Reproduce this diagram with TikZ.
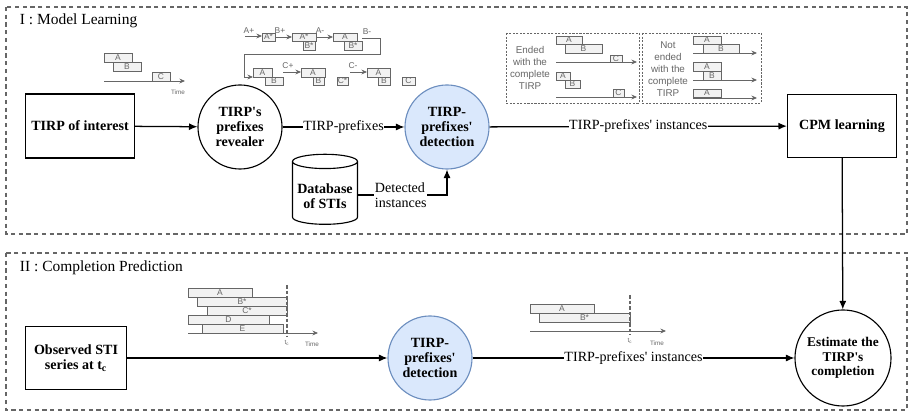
\documentclass[tikz,border=0pt]{standalone}
\usepackage{fontspec}
\setmainfont{Liberation Serif}[Ligatures=TeXOff]
\setsansfont{Liberation Sans}
\usetikzlibrary{arrows.meta, shapes.geometric}

\definecolor{sketchgray}{HTML}{666666}
\definecolor{evfill}{HTML}{F2F2F2}
\definecolor{detfill}{HTML}{DAE8FC}
\definecolor{detline}{HTML}{6C8EBF}

% small interval box with its letter
\newcommand{\ev}[5]{\draw[evbox] (#1,#2) rectangle node[evtext]{#5} (#3,#4);}

\begin{document}
\begin{tikzpicture}[x=0.025cm, y=-0.025cm,
	frame/.style={draw=sketchgray, line width=0.8pt, dash pattern=on 3pt off 2.5pt},
	panel/.style={draw=sketchgray, line width=0.5pt, dash pattern=on 1.5pt off 1pt},
	procbox/.style={draw, line width=0.8pt, font=\fontsize{10}{11}\selectfont\bfseries, align=center},
	proc/.style={draw, circle, line width=0.8pt, minimum size=2.1cm, inner sep=0pt, font=\fontsize{10}{10.5}\selectfont\bfseries, align=center},
	detect/.style={proc, fill=detfill, draw=detline},
	flow/.style={line width=0.9pt, -{Latex[length=6pt, width=5pt]}},
	flowlbl/.style={fill=white, inner sep=0.5pt, font=\fontsize{10}{11}\selectfont, align=left},
	evbox/.style={draw=sketchgray, fill=evfill, line width=0.5pt},
	evtext/.style={text=sketchgray, font=\sffamily\fontsize{6}{6}\selectfont, inner sep=0pt},
	evlbl/.style={text=sketchgray, font=\sffamily\fontsize{6}{6}\selectfont, inner sep=0pt},
	tinylbl/.style={text=sketchgray, font=\sffamily\fontsize{4.5}{5}\selectfont, inner sep=0pt},
	paneltxt/.style={text=sketchgray, font=\sffamily\fontsize{7}{8.5}\selectfont, align=center, inner sep=0pt},
	axis/.style={draw=sketchgray, line width=0.6pt, -{Stealth[length=4pt, width=3.5pt]}},
	]
	\useasboundingbox (0,0) rectangle (908,411);

	% the two stages
	\draw[frame] (6,7) rectangle (907,234);
	\draw[frame] (6,253) rectangle (907,410);
	\node[anchor=west, font=\fontsize{11}{12}\selectfont] (stageI) at (15,21) {I : Model Learning};
	\node[anchor=west, font=\fontsize{11}{12}\selectfont] (stageII) at (15,268) {II : Completion Prediction};

	% stage I
	\node[procbox, minimum width=2.725cm, minimum height=1.6cm] (interest) at (80,126) {TIRP of interest};
	\node[proc] (revealer) at (240,127) {TIRP's\\prefixes\\revealer};
	\node[detect] (detectI) at (447,127) {TIRP-\\prefixes'\\detection};
	\node[draw, cylinder, shape border rotate=90, aspect=0.22, line width=0.8pt,
		minimum width=1.625cm, minimum height=1.75cm, font=\fontsize{10}{11}\selectfont\bfseries, align=center] (db) at (325,195) {\\[-2pt]Database\\of STIs};
	\node[procbox, minimum width=2.725cm, minimum height=1.575cm] (cpm) at (842,126) {CPM learning};

	\draw[flow] (interest) -- (revealer);
	\draw[flow] (revealer) -- node[flowlbl] {TIRP-prefixes} (detectI);
	\draw[flow] (db.east) -| node[flowlbl, pos=0.24] {Detected\\instances} (detectI.south);
	\draw[flow] (detectI) -- node[flowlbl] {TIRP-prefixes' instances} (cpm);

	% stage II
	\node[procbox, minimum width=2.525cm, minimum height=1.575cm] (observed) at (76,358) {Observed STI\\series at t\textsubscript{c}};
	\node[detect] (detectII) at (430,358) {TIRP-\\prefixes'\\detection};
	\node[proc, minimum size=2.4cm, font=\fontsize{9.5}{10.5}\selectfont\bfseries] (estimate) at (843,358) {Estimate the\\TIRP's\\completion};

	\draw[flow] (observed) -- (detectII);
	\draw[flow] (detectII) -- node[flowlbl] {TIRP-prefixes' instances} (estimate);
	\draw[flow] (cpm) -- (estimate);

	% TIRP of interest sketch
	\ev{104}{53}{132}{62}{A}
	\ev{113}{62}{141}{71}{B}
	\ev{152}{72}{170}{81}{C}
	\draw[axis] (104,81) -- (185,81);
	\node[tinylbl] at (178,92) {Time};

	% prefixes revealed step by step
	\node[evlbl] at (249,31) {A+};
	\draw[axis] (245,36) -- (262,36);
	\ev{262}{33}{275}{41}{A*}
	\node[evlbl] at (280,31) {B+};
	\draw[axis] (275,37) -- (292,37);
	\ev{292}{33}{316}{41}{A*}
	\ev{303}{41}{315}{50}{B*}
	\node[evlbl] at (320,31) {A-};
	\draw[axis] (316,37) -- (333,37);
	\ev{333}{33}{357}{41}{A}
	\ev{344}{41}{362}{50}{B*}
	\node[evlbl] at (367,32) {B-};
	\draw[axis] (362,38) -- (380,38) -- (380,54) -- (244,54) -- (244,77) -- (253,77);
	\ev{253}{68}{272}{77}{A}
	\ev{265}{77}{283}{85}{B}
	\node[evlbl] at (288,66) {C+};
	\draw[axis] (283,72) -- (301,72);
	\ev{301}{68}{325}{77}{A}
	\ev{313}{77}{324}{85}{B}
	\ev{337}{77}{348}{85}{C*}
	\node[evlbl] at (353,66) {C-};
	\draw[axis] (350,72) -- (367,72);
	\ev{367}{68}{390}{77}{A}
	\ev{378}{77}{390}{85}{B}
	\ev{402}{77}{415}{85}{C}

	% instances panel
	\draw[panel] (506,33) rectangle (639,103);
	\draw[panel] (642,33) rectangle (761,103);
	\node[paneltxt] at (530,68) {Ended\\with the\\complete\\TIRP};
	\ev{556}{36}{582}{44}{A}
	\ev{565}{44}{602}{53}{B}
	\ev{610}{55}{622}{62}{C}
	\draw[axis] (556,62) -- (637,62);
	\ev{556}{72}{570}{80}{A}
	\ev{565}{80}{580}{88}{B}
	\ev{613}{89}{624}{97}{C}
	\draw[axis] (556,97) -- (637,97);
	\node[paneltxt] at (668,69) {Not\\ended\\with the\\complete\\TIRP};
	\ev{693}{36}{721}{44}{A}
	\ev{703}{44}{739}{53}{B}
	\draw[axis] (693,53) -- (757,53);
	\ev{693}{62}{721}{71}{A}
	\ev{703}{71}{721}{80}{B}
	\draw[axis] (693,80) -- (757,80);
	\ev{693}{89}{721}{97}{A}
	\draw[axis] (693,98) -- (757,98);

	% observed series sketch
	\ev{188}{288}{252}{297}{A}
	\ev{197}{297}{287}{306}{B*}
	\ev{207}{306}{287}{315}{C*}
	\ev{188}{315}{269}{324}{D}
	\ev{202}{324}{283}{333}{E}
	\draw[axis] (188,333) -- (318,333);
	\draw[sketchgray, line width=0.8pt, dash pattern=on 2.5pt off 1.5pt] (287,285) -- (287,336);
	\node[tinylbl] at (287,343) {t\textsubscript{c}};
	\node[tinylbl] at (312,344) {Time};

	% detected instance sketch
	\ev{530}{304}{594}{313}{A}
	\ev{539}{313}{630}{322}{B*}
	\draw[axis] (530,331) -- (666,331);
	\draw[sketchgray, line width=0.8pt, dash pattern=on 2.5pt off 1.5pt] (630,295) -- (630,335);
	\node[tinylbl] at (630,341) {t\textsubscript{c}};
	\node[tinylbl] at (657,343) {Time};
\end{tikzpicture}
\end{document}
